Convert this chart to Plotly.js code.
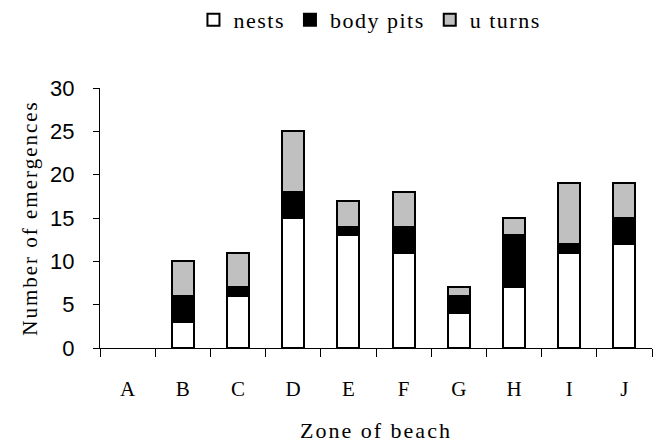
<!DOCTYPE html>
<html>
<head>
<meta charset="utf-8">
<script src="https://cdn.plot.ly/plotly-3.0.1.min.js"></script>
<style>
html,body{margin:0;padding:0;background:#fff}
#chart{width:663px;height:445px}
.g-xtitle text, .g-ytitle text { letter-spacing: 2px; }
.legendtext { letter-spacing: 1.5px; }
</style>
</head>
<body>
<div id="chart"></div>
<script>
const zones = ['A','B','C','D','E','F','G','H','I','J'];
const nests = [0, 3, 6, 15, 13, 11, 4, 7, 11, 12];
const bodyPits = [0, 3, 1, 3, 1, 3, 2, 6, 1, 3];
const uTurns = [0, 4, 4, 7, 3, 4, 1, 2, 7, 4];
const yTicks = [0, 5, 10, 15, 20, 25, 30];

const serif = 'Liberation Serif, Times New Roman, serif';
const sans = 'Liberation Sans, Arial, sans-serif';
const line = {color: '#000', width: 2};
// zero-height segments are not drawn (no outline line at the baseline)
const shown = vals => vals.map(v => v > 0 ? v : null);

const traces = [
  {type: 'bar', name: 'nests', x: zones, y: shown(nests), marker: {color: '#ffffff', line: line}, width: 0.4},
  {type: 'bar', name: 'body pits', x: zones, y: shown(bodyPits), marker: {color: '#000000', line: line}, width: 0.4},
  {type: 'bar', name: 'u turns', x: zones, y: shown(uTurns), marker: {color: '#c0c0c0', line: line}, width: 0.4}
];

const layout = {
  width: 663, height: 445,
  margin: {l: 100, r: 11, t: 88, b: 97},
  barmode: 'stack',
  paper_bgcolor: '#fff', plot_bgcolor: '#fff',
  showlegend: true,
  legend: {orientation: 'h', x: 0.558, xref: 'container', xanchor: 'center',
           y: 0.955, yref: 'container', yanchor: 'middle',
           font: {family: serif, size: 22, color: '#000'}, traceorder: 'normal', itemwidth: 30},
  xaxis: {
    type: 'category', categoryorder: 'array', categoryarray: zones, range: [-0.5, 9.5],
    tickson: 'boundaries', ticks: 'outside', ticklen: 8, tickcolor: '#000', tickwidth: 1,
    showline: true, linecolor: '#000', linewidth: 1, showgrid: false, zeroline: false,
    tickfont: {family: serif, size: 21, color: '#000'}, ticklabelstandoff: 22,
    title: {text: 'Zone of beach', font: {family: serif, size: 22, color: '#000'}, standoff: 22}
  },
  yaxis: {
    range: [0, 30], tickvals: yTicks, ticks: 'outside', ticklen: 6, tickcolor: '#000', tickwidth: 1,
    showline: true, linecolor: '#000', linewidth: 1, showgrid: false, zeroline: false,
    tickfont: {family: sans, size: 22, color: '#000'}, ticklabelstandoff: 14,
    title: {text: 'Number of emergences', font: {family: serif, size: 21, color: '#000'}, standoff: 6}
  }
};

Plotly.newPlot('chart', traces, layout, {displayModeBar: false, staticPlot: true});
</script>
</body>
</html>
